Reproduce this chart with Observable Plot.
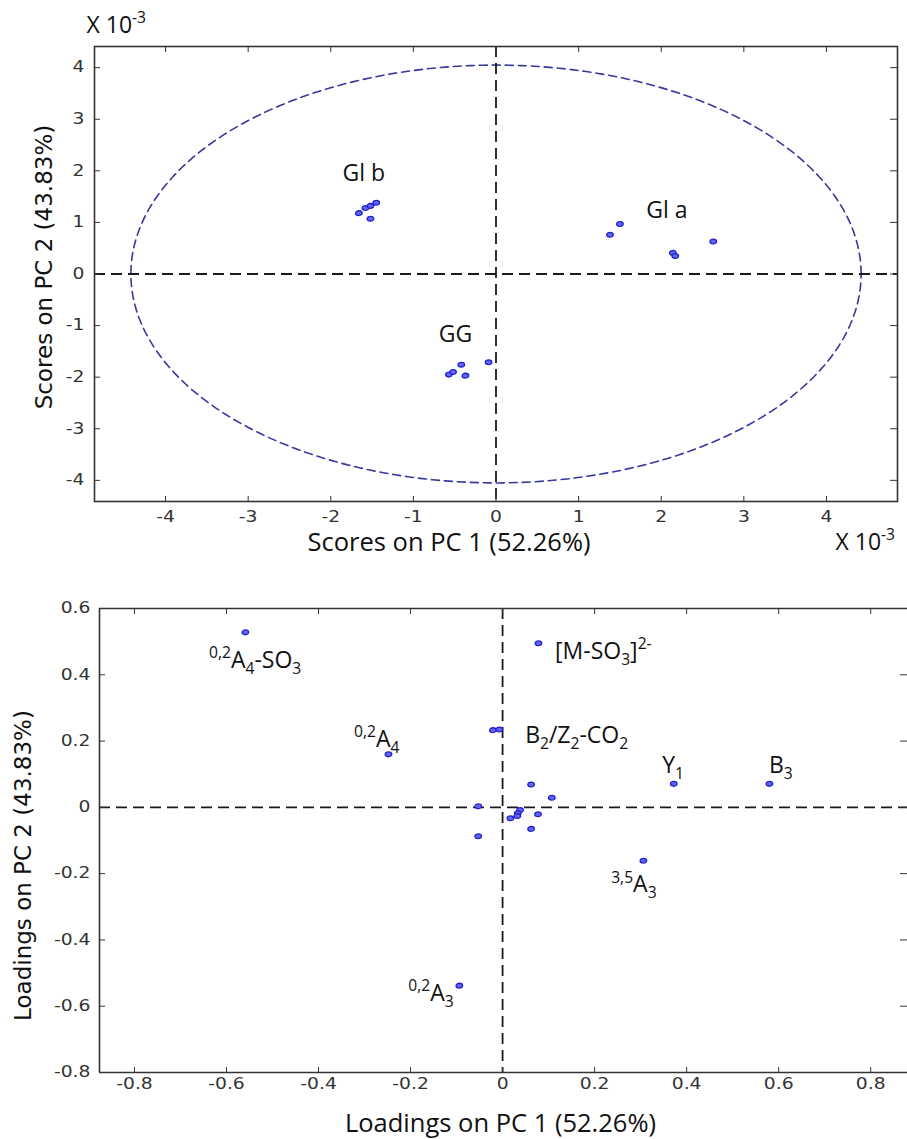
<!DOCTYPE html>
<html><head><meta charset="utf-8">
<script src="https://cdn.jsdelivr.net/npm/d3@7"></script>
<script src="https://cdn.jsdelivr.net/npm/@observablehq/plot@0.6"></script>
<style>body{margin:0;background:#fff}#chart{width:907px}svg{display:block}</style>
</head><body><div id="chart"></div>
<script>
// ---- Scores plot (values x 10^-3) ----
const glaPC1 = [1.38, 1.50, 2.14, 2.17, 2.63];
const glaPC2 = [0.76, 0.97, 0.41, 0.35, 0.63];
const glbPC1 = [-1.66, -1.58, -1.52, -1.45, -1.52];
const glbPC2 = [1.18, 1.28, 1.32, 1.38, 1.07];
const ggPC1 = [-0.57, -0.52, -0.42, -0.37, -0.09];
const ggPC2 = [-1.95, -1.90, -1.76, -1.97, -1.71];
const groupNames = ["Gl a", "Gl b", "GG"];
const groupLabelX = [2.07, -1.60, -0.49];
const groupLabelY = [1.23, 1.95, -1.17];
const scoreTicks = [-4, -3, -2, -1, 0, 1, 2, 3, 4];
const ellipseRadii = [4.42, 4.05];

// ---- Loadings plot ----
const loadPC1 = [-0.559, 0.078, -0.248, -0.021, -0.007, 0.372, 0.580, 0.062, 0.107, -0.053, 0.038, 0.033, 0.032, 0.017, 0.077, 0.062, -0.053, 0.306, -0.094];
const loadPC2 = [0.528, 0.495, 0.160, 0.233, 0.235, 0.071, 0.071, 0.069, 0.029, 0.003, -0.008, -0.018, -0.026, -0.033, -0.021, -0.065, -0.087, -0.161, -0.538];
const fragLabels = ["^{0,2}A_{4}-SO_{3}", "[M-SO_{3}]^{2-}", "^{0,2}A_{4}", "B_{2}/Z_{2}-CO_{2}", "Y_{1}", "B_{3}", "^{3,5}A_{3}", "^{0,2}A_{3}"];
const fragLabelX = [-0.638, 0.114, -0.323, 0.049, 0.347, 0.579, 0.236, -0.205];
const fragLabelY = [0.444, 0.470, 0.204, 0.215, 0.125, 0.125, -0.234, -0.562];
const loadTicksX = [-0.8, -0.6, -0.4, -0.2, 0, 0.2, 0.4, 0.6, 0.8];
const loadTicksY = [-0.8, -0.6, -0.4, -0.2, 0, 0.2, 0.4, 0.6];

// ---- derived tables ----
const scores = [
  ...glaPC1.map((v, i) => ({pc1: v, pc2: glaPC2[i]})),
  ...glbPC1.map((v, i) => ({pc1: v, pc2: glbPC2[i]})),
  ...ggPC1.map((v, i) => ({pc1: v, pc2: ggPC2[i]}))
];
const groups = groupNames.map((n, i) => ({name: n, x: groupLabelX[i], y: groupLabelY[i]}));
const ellipse = d3.range(0, 361, 2).map(a => ({x: ellipseRadii[0] * Math.cos(a * Math.PI / 180), y: ellipseRadii[1] * Math.sin(a * Math.PI / 180)}));
const loadings = loadPC1.map((v, i) => ({pc1: v, pc2: loadPC2[i]}));
const frags = fragLabels.map((t, i) => ({t, x: fragLabelX[i], y: fragLabelY[i]}));

const oval = {draw(ctx) {
  const rx = 3.3, ry = 2.4, k = 0.5523;
  ctx.moveTo(rx, 0);
  ctx.bezierCurveTo(rx, ry * k, rx * k, ry, 0, ry);
  ctx.bezierCurveTo(-rx * k, ry, -rx, ry * k, -rx, 0);
  ctx.bezierCurveTo(-rx, -ry * k, -rx * k, -ry, 0, -ry);
  ctx.bezierCurveTo(rx * k, -ry, rx, -ry * k, rx, 0);
  ctx.closePath();
}};

const dotStyle = {symbol: oval, fill: "#6565f2", stroke: "#2222cc", strokeWidth: 1.3};
const dash = {stroke: "#1a1a1a", strokeWidth: 1.8, strokeDasharray: "11,6"};
const baseStyle = {fontFamily: "DejaVu Sans", fontSize: "15px", background: "#fff", color: "#333", overflow: "visible"};
const lab = {fontFamily: "Open Sans", fill: "#111"};
const noText = () => "";
const fmt = d => String(d);

const p1 = Plot.plot({
  width: 907, height: 560,
  marginLeft: 94, marginRight: 10, marginTop: 46, marginBottom: 59,
  x: {domain: [-4.86, 4.86]},
  y: {domain: [-4.41, 4.41]},
  style: baseStyle,
  marks: [
    Plot.line(ellipse, {x: "x", y: "y", stroke: "#38389e", strokeWidth: 1.6, strokeDasharray: "8,5"}),
    Plot.ruleX([0], dash),
    Plot.ruleY([0], dash),
    Plot.frame({stroke: "#333", strokeWidth: 1.6}),
    Plot.axisX({ticks: scoreTicks, anchor: "bottom", tickSize: -5, tickFormat: noText, label: null}),
    Plot.axisX({ticks: scoreTicks, anchor: "top", tickSize: -5, tickFormat: noText, label: null}),
    Plot.axisY({ticks: scoreTicks, anchor: "left", tickSize: -6, tickFormat: noText, label: null}),
    Plot.axisY({ticks: scoreTicks, anchor: "right", tickSize: -8, tickFormat: noText, label: null}),
    Plot.axisX({ticks: scoreTicks, anchor: "bottom", tickSize: 0, tickPadding: 10, tickFormat: fmt, label: null}),
    Plot.axisY({ticks: scoreTicks, anchor: "left", tickSize: 0, tickPadding: 10, tickFormat: fmt, label: null}),
    Plot.dot(scores, {x: "pc1", y: "pc2", ...dotStyle}),
    Plot.text(groups, {x: "x", y: "y", text: "name", fontSize: 23, ...lab}),
    Plot.text(["X 10^{-3}"], {frameAnchor: "top-left", textAnchor: "start", lineAnchor: "middle", dx: -8, dy: -21, fontSize: 23, ...lab}),
    Plot.text(["X 10^{-3}"], {frameAnchor: "bottom-right", textAnchor: "start", lineAnchor: "middle", dx: -62, dy: 41, fontSize: 23, ...lab}),
    Plot.text(["Scores on PC 1 (52.26%)"], {frameAnchor: "bottom", textAnchor: "middle", lineAnchor: "middle", dx: -47, dy: 41, fontSize: 25.5, ...lab}),
    Plot.text(["Scores on PC 2 (43.83%)"], {frameAnchor: "left", textAnchor: "middle", lineAnchor: "middle", rotate: -90, dx: -50, dy: -7, fontSize: 23, fontFamily: "DejaVu Sans", fill: "#111"})
  ]
});

const p2 = Plot.plot({
  width: 907, height: 579,
  marginLeft: 99, marginRight: 0, marginTop: 48, marginBottom: 67,
  x: {domain: [-0.876, 0.880]},
  y: {domain: [-0.8, 0.6]},
  style: baseStyle,
  marks: [
    Plot.ruleX([0], dash),
    Plot.ruleY([0], dash),
    Plot.ruleX([-0.876], {stroke: "#333", strokeWidth: 1.6}),
    Plot.ruleY([-0.8, 0.6], {stroke: "#333", strokeWidth: 1.6}),
    Plot.axisX({ticks: loadTicksX, anchor: "bottom", tickSize: -5, tickFormat: noText, label: null}),
    Plot.axisX({ticks: loadTicksX, anchor: "top", tickSize: -5, tickFormat: noText, label: null}),
    Plot.axisY({ticks: loadTicksY, anchor: "left", tickSize: -6, tickFormat: noText, label: null}),
    Plot.axisY({ticks: loadTicksY, anchor: "right", tickSize: -8, tickFormat: noText, label: null}),
    Plot.axisX({ticks: loadTicksX, anchor: "bottom", tickSize: 0, tickPadding: 6, tickFormat: fmt, label: null}),
    Plot.axisY({ticks: loadTicksY, anchor: "left", tickSize: 0, tickPadding: 9, tickFormat: fmt, label: null}),
    Plot.dot(loadings, {x: "pc1", y: "pc2", ...dotStyle}),
    Plot.text(frags, {x: "x", y: "y", text: "t", textAnchor: "start", fontSize: 23, ...lab}),
    Plot.text(["Loadings on PC 1 (52.26%)"], {frameAnchor: "bottom", textAnchor: "middle", lineAnchor: "middle", dx: -3, dy: 51, fontSize: 25.5, ...lab}),
    Plot.text(["Loadings on PC 2 (43.83%)"], {frameAnchor: "left", textAnchor: "middle", lineAnchor: "middle", rotate: -90, dx: -76, dy: 25, fontSize: 23, fontFamily: "DejaVu Sans", fill: "#111"})
  ]
});

const chart = document.getElementById("chart");
chart.appendChild(p1);
chart.appendChild(p2);

function richText(svg) {
  const NS = "http://www.w3.org/2000/svg";
  svg.querySelectorAll("text").forEach(t => {
    const s = t.textContent;
    if (!/[\^_]\{/.test(s)) return;
    const fs = parseFloat(getComputedStyle(t).fontSize);
    const parts = [];
    const re = /([\^_])\{([^}]*)\}|([^\^_]+)/g;
    let m;
    while ((m = re.exec(s))) parts.push(m[3] !== undefined ? {k: 0, s: m[3]} : {k: m[1] === "^" ? -1 : 1, s: m[2]});
    t.textContent = "";
    let cur = 0;
    for (const p of parts) {
      const target = p.k < 0 ? -0.42 * fs : p.k > 0 ? 0.26 * fs : 0;
      const ts = document.createElementNS(NS, "tspan");
      ts.setAttribute("dy", (target - cur).toFixed(2));
      if (p.k) ts.setAttribute("font-size", (0.68 * fs).toFixed(2));
      ts.textContent = p.s;
      t.appendChild(ts);
      cur = target;
    }
  });
}
function stretchTicks(svg) {
  svg.querySelectorAll('g[aria-label$="tick label"] text').forEach(t => {
    const tr = t.getAttribute("transform") || "";
    t.setAttribute("transform", tr + " scale(1.25,1)");
  });
}
[p1, p2].forEach(s => { richText(s); stretchTicks(s); });
</script>
</body></html>
